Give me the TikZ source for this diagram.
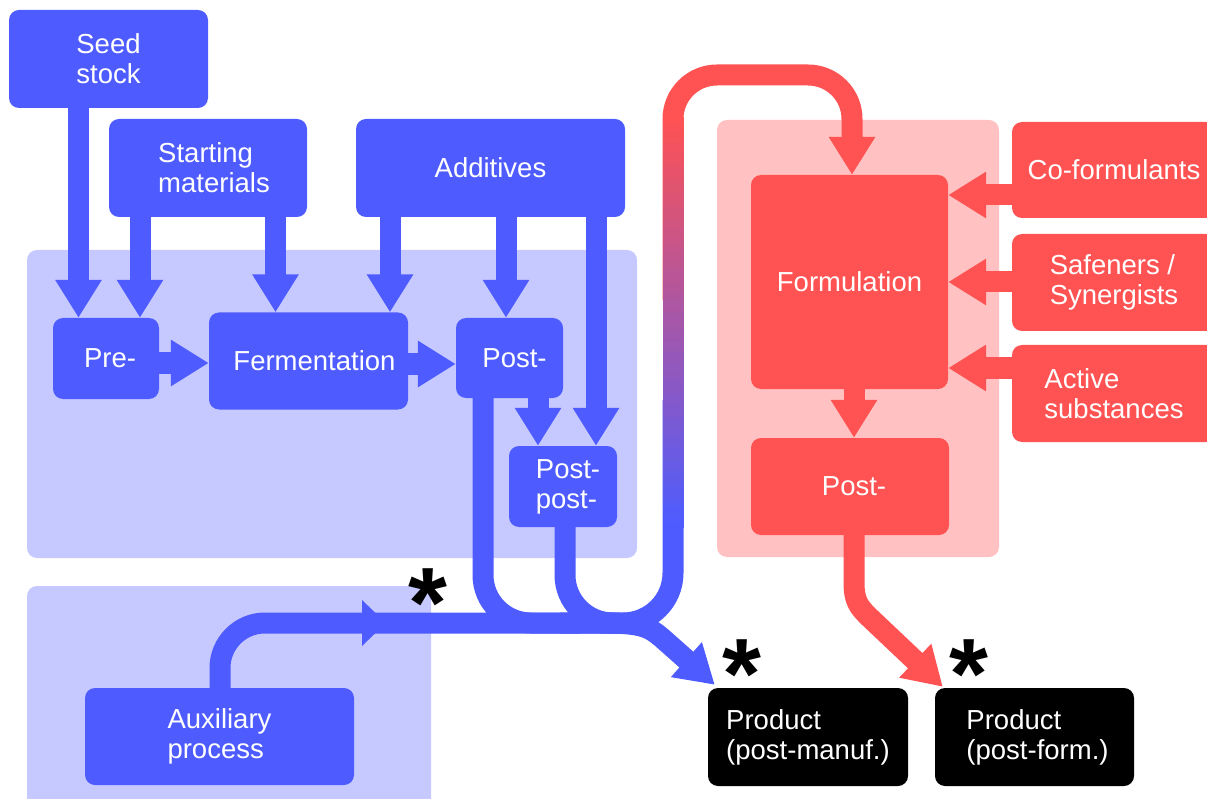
\documentclass[tikz,border=0pt]{standalone}
\usepackage{fontspec}
\setmainfont{Liberation Sans}
\usetikzlibrary{arrows.meta,calc}
\definecolor{cb}{HTML}{4E5CFF}
\definecolor{cbl}{HTML}{C6C9FF}
\definecolor{cr}{HTML}{FF5252}
\definecolor{crl}{HTML}{FFC1C1}
\begin{document}
\begin{tikzpicture}[x=1pt,y=-1pt,
  box/.style={rounded corners=10pt, inner sep=0pt, text=white, align=left, font=\fontsize{27.5}{30}\selectfont},
  bbox/.style={box, fill=cb},
  rbox/.style={box, fill=cr},
  kbox/.style={box, fill=black},
  region/.style={rounded corners=10pt},
  tipend/.style={-{Triangle[width=44pt,length=38pt]}},
  barrow/.style={draw=cb, line width=21pt, tipend},
  rarrow/.style={draw=cr, line width=21pt, tipend},
  bline/.style={draw=cb, line width=21pt},
  star/.style={font=\fontsize{100}{100}\selectfont\bfseries, anchor=base, inner sep=0pt, text=black}
]
\useasboundingbox (0,0) rectangle (1207,799);
% background regions
\fill[cbl, region] (27,250) rectangle (637,558);
\fill[cbl, region] (27,586) rectangle (431,815);
\fill[crl, region] (717,120) rectangle (999,557);

% nodes
\node[bbox, minimum width=199pt, minimum height=98pt] (seed) at (108.5,59) {Seed\\stock};
\node[bbox, minimum width=198pt, minimum height=98pt] (start) at (208,168) {\hspace*{12pt}Starting\\\hspace*{12pt}materials};
\node[bbox, minimum width=269pt, minimum height=98pt] (add) at (490.5,168) {Additives};
\node[bbox, minimum width=106pt, minimum height=81pt] (pre) at (106,358.5) {\hspace*{8pt}Pre-};
\node[bbox, minimum width=199pt, minimum height=97pt] (ferm) at (308.5,361) {\hspace*{12pt}Fermentation};
\node[bbox, minimum width=107pt, minimum height=80pt] (postb) at (509.5,358) {\hspace*{10pt}Post-};
\node[bbox, minimum width=108pt, minimum height=81pt] (pp) at (563,486.5) {\hspace*{10pt}Post-\\\hspace*{10pt}post-};
\node[bbox, minimum width=269pt, minimum height=97pt] (aux) at (219.5,736.5) {Auxiliary\\process};
\node[rbox, minimum width=197pt, minimum height=214pt] (form) at (849.5,282) {Formulation};
\node[rbox, minimum width=198pt, minimum height=97pt] (rpost) at (850,486.5) {\hspace*{8pt}Post-};
\node[rbox, minimum width=204pt, minimum height=96pt] (cof) at (1114,170) {Co-formulants};
\node[rbox, minimum width=204pt, minimum height=97pt] (saf) at (1114,282.5) {Safeners /\\Synergists};
\node[rbox, minimum width=204pt, minimum height=97pt] (act) at (1114,393.5) {Active\\substances};
\node[kbox, minimum width=200pt, minimum height=98pt] (prod1) at (808,737) {Product\\(post-manuf.)};
\node[kbox, minimum width=199pt, minimum height=98pt] (prod2) at (1034.5,737) {\hspace*{6pt}Product\\\hspace*{6pt}(post-form.)};

% blue arrows
\draw[barrow] (78.5,0 |- seed.south) -- (78.5,0 |- pre.north);
\draw[barrow] (140,0 |- start.south) -- (140,0 |- pre.north);
\draw[barrow] (275.5,0 |- start.south) -- (275.5,0 |- ferm.north);
\draw[barrow] (390,0 |- add.south) -- (390,0 |- ferm.north);
\draw[barrow] (506,0 |- add.south) -- (506,0 |- postb.north);
\draw[barrow] (596,0 |- add.south) -- (596,0 |- pp.north);
\draw[barrow] (538,0 |- postb.south) -- (538,0 |- pp.north);
\draw[barrow] (pre.east |- 0,363) -- (ferm.west |- 0,363);
\draw[barrow] (ferm.east |- 0,364) -- (postb.west |- 0,364);

% red arrows
\draw[rarrow] (cof.west |- 0,195) -- (form.east |- 0,195);
\draw[rarrow] (saf.west |- 0,282) -- (form.east |- 0,282);
\draw[rarrow] (act.west |- 0,368) -- (form.east |- 0,368);
\draw[rarrow] (854,0 |- form.south) -- (854,0 |- rpost.north);
\draw[rarrow] (854,0 |- rpost.south) -- (854,582) .. controls (854,600) and (858,606) .. (868,616) -- ($(prod2.north west)+(8,-1)$);

% merging flows
\draw[bline, rounded corners=48pt] (483,0 |- postb.south) -- (483,623) -- (580,623);
\draw[bline, rounded corners=48pt] (565,0 |- pp.south) -- (565,623) -- (650,623);
\draw[bline, rounded corners=45pt] (220,0 |- aux.north) -- (220,623) -- (620,623);
\fill[cb] (362,600) -- (362,646) -- (386,623) -- cycle;
\draw[barrow] (600,623) .. controls (640,623) and (648,626) .. (662,638) -- ($(prod1.north west)+(7,-3)$);

% gradient return flow
\draw[rarrow, rounded corners=44pt] (673,300) -- (673,75) -- (852,75) -- (852,0 |- form.north);
\draw[bline, rounded corners=50pt] (673,400) -- (673,623) -- (560,623);
\foreach \i in {0,...,81}{
  \pgfmathsetmacro{\ya}{117+5*\i}
  \pgfmathsetmacro{\yb}{\ya+5.6}
  \pgfmathtruncatemacro{\p}{100-\i*100/81}
  \fill[cr!\p!cb] (662.5,\ya) rectangle (683.5,\yb);
}

% asterisks
\node[star] (s1) at (428,637) {\raisebox{0pt}[74pt][-36pt]{*}};
\node[star] (s2) at (742,708) {\raisebox{0pt}[74pt][-36pt]{*}};
\node[star] (s3) at (969,708) {\raisebox{0pt}[74pt][-36pt]{*}};
\end{tikzpicture}
\end{document}
